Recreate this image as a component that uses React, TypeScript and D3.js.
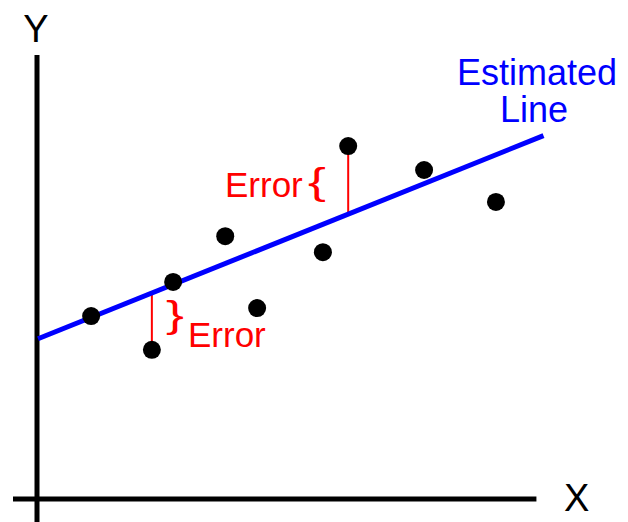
import React from "react";
import * as d3 from "d3";

const pointsX = [1.07, 2.27, 2.69, 3.72, 4.35, 5.65, 6.15, 7.65, 9.07];
const pointsY = [4.12, 3.36, 4.89, 5.92, 4.3, 5.56, 7.95, 7.41, 6.69];
const lineIntercept = 3.6;
const lineSlope = 0.458;
const errorIdx = [1, 6];
const axisLabels = ["X", "Y"];
const lineLabel = ["Estimated", "Line"];
const errorLabel = "Error";

export default function App() {
  const W = 628, H = 522;
  const x = d3.scaleLinear().domain([0, 10]).range([37, 543]);
  const y = d3.scaleLinear().domain([0, 10]).range([499, 55]);
  const fit = (v: number) => lineIntercept + lineSlope * v;
  const lineGen = d3.line<number>().x((d) => x(d)).y((d) => y(fit(d)));
  const font = "'Liberation Sans', Arial, sans-serif";
  const pts = pointsX.map((v, i) => ({ x: v, y: pointsY[i] }));
  return (
    <svg width={W} height={H} style={{ position: "absolute", left: 0, top: 0, background: "#fff" }}>
      {/* axes */}
      <line x1={x(0)} x2={x(0)} y1={y(10)} y2={H} stroke="#000" strokeWidth={5} />
      <line x1={13} x2={x(9.87)} y1={y(0)} y2={y(0)} stroke="#000" strokeWidth={5} />
      <text x={x(0) - 1} y={42} fontFamily={font} fontSize={38} textAnchor="middle" fill="#000">{axisLabels[1]}</text>
      <text x={564} y={511} fontFamily={font} fontSize={38} fill="#000">{axisLabels[0]}</text>
      {/* error segments */}
      {errorIdx.map((i) => (
        <line key={i} x1={x(pts[i].x)} x2={x(pts[i].x)} y1={y(pts[i].y)} y2={y(fit(pts[i].x))} stroke="#ff0000" strokeWidth={2} />
      ))}
      {/* fitted line */}
      <path d={lineGen([0.02, 10.01]) || ""} stroke="#0000ff" strokeWidth={5} fill="none" />
      {/* points */}
      {pts.map((p, i) => (
        <circle key={i} cx={x(p.x)} cy={y(p.y)} r={9} fill="#000" />
      ))}
      {/* labels */}
      <text x={457} y={85} fontFamily={font} fontSize={36} fill="#0000ff">{lineLabel[0]}</text>
      <text x={500} y={122} fontFamily={font} fontSize={36} fill="#0000ff">{lineLabel[1]}</text>
      <text x={225} y={197} fontFamily={font} fontSize={35} fill="#ff0000">{errorLabel}</text>
      <text transform="translate(308,194) scale(1.45,1)" fontFamily={font} fontSize={37} fill="#ff0000">{"{"}</text>
      <text transform="translate(166,327) scale(1.45,1)" fontFamily={font} fontSize={37} fill="#ff0000">{"}"}</text>
      <text x={188} y={347} fontFamily={font} fontSize={35} fill="#ff0000">{errorLabel}</text>
    </svg>
  );
}
